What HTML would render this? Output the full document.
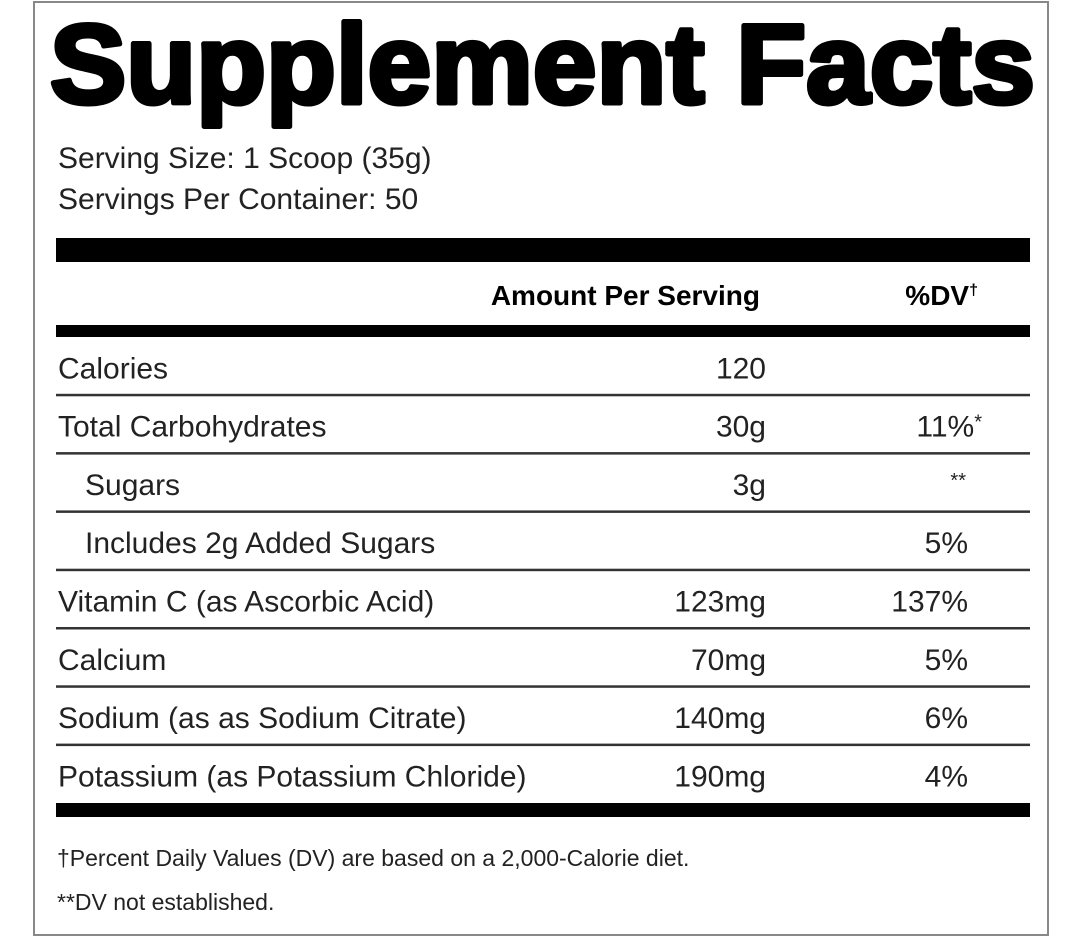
<!DOCTYPE html>
<html><head><meta charset="utf-8"><style>
html,body{margin:0;padding:0;background:#fff;}
svg{display:block;font-family:"Liberation Sans",Arial,sans-serif;}
</style></head><body>
<svg width="1080" height="948" viewBox="0 0 1080 948">
<rect x="0" y="0" width="1080" height="948" fill="#fff"/>
<rect x="34" y="2" width="1014" height="933" fill="none" stroke="#888" stroke-width="2"/>
<text x="50" y="103" font-size="112" font-weight="bold" fill="#000" stroke="#000" stroke-width="5" stroke-linejoin="round" textLength="985" lengthAdjust="spacingAndGlyphs">Supplement Facts</text>
<text x="58" y="168" font-size="30" fill="#222">Serving Size: 1 Scoop (35g)</text>
<text x="58" y="209" font-size="30" fill="#222">Servings Per Container: 50</text>
<rect x="56" y="238" width="974" height="24" fill="#000"/>
<text x="760" y="305" font-size="28" font-weight="bold" text-anchor="end" fill="#000">Amount Per Serving</text>
<text x="978" y="305" font-size="28" font-weight="bold" text-anchor="end" fill="#000">%DV<tspan font-size="16" dy="-10">†</tspan></text>
<rect x="56" y="325" width="974" height="12" fill="#000"/>
<g id="rows"></g>
<rect x="56" y="803" width="974" height="14" fill="#000"/>
<text x="57" y="866" font-size="23" fill="#222">†Percent Daily Values (DV) are based on a 2,000-Calorie diet.</text>
<text x="57" y="910" font-size="23" fill="#222">**DV not established.</text>
</svg>
<script>
const names=["Calories","Total Carbohydrates","Sugars","Includes 2g Added Sugars","Vitamin C (as Ascorbic Acid)","Calcium","Sodium (as as Sodium Citrate)","Potassium (as Potassium Chloride)"];
const amounts=["120","30g","3g","","123mg","70mg","140mg","190mg"];
const dvs=["","11%*","**","5%","137%","5%","6%","4%"];
const indents=[0,0,1,1,0,0,0,0];
const NS="http://www.w3.org/2000/svg";
const g=document.getElementById('rows');
const top0=337,rowH=58.3;
function mk(tag,attrs){const e=document.createElementNS(NS,tag);for(const k in attrs)e.setAttribute(k,attrs[k]);return e;}
names.forEach((n,i)=>{
  const base=top0+rowH*(i+1)-17;
  const t=mk('text',{x:indents[i]?85:58,y:base,'font-size':30,fill:'#222'});
  
  
  t.textContent=n;g.appendChild(t);
  const a=mk('text',{x:766,y:base,'font-size':30,fill:'#222','text-anchor':'end'});
  
  
  a.textContent=amounts[i];g.appendChild(a);
  const d=dvs[i];
  const hasStar=d.endsWith('*');
  const dt=mk('text',{x:hasStar?982:968,y:base,'font-size':d==='**'?20:30,fill:'#222','text-anchor':'end'});
  if(d==='**'){dt.setAttribute('y',base-8);dt.setAttribute('x',966);}
  
  
  if(d.endsWith('*')&&d!=='**'){dt.textContent=d.slice(0,-1);const s=mk('tspan',{'font-size':20,dy:-8});s.textContent='*';dt.appendChild(s);}else dt.textContent=d;
  g.appendChild(dt);
  if(i<names.length-1){
    const ly=top0+rowH*(i+1);
    const l=mk('rect',{x:56,y:ly-1.5,width:974,height:2.5,fill:'#333'});
    
    
    g.appendChild(l);
  }
});
</script>
</body></html>
